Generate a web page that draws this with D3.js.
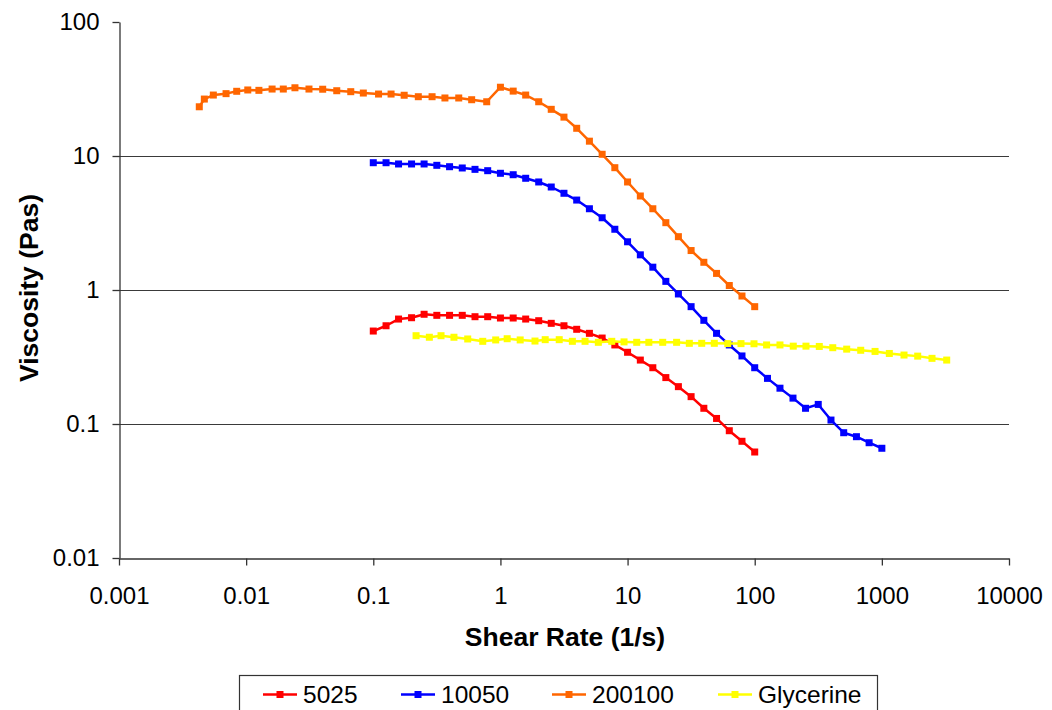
<!DOCTYPE html>
<html>
<head>
<meta charset="utf-8">
<script src="https://cdn.jsdelivr.net/npm/d3@7"></script>
<style>
  html, body { margin: 0; padding: 0; background: #ffffff; }
  svg { display: block; }
  text { font-family: "Liberation Sans", Arial, sans-serif; fill: #000; }
</style>
</head>
<body>
<svg id="chart" width="1052" height="710"></svg>
<script>
// Shear rate (1/s) and viscosity (Pa·s) for each sample
const rate5025 = [0.1, 0.126, 0.158, 0.2, 0.251, 0.316, 0.398, 0.501, 0.631, 0.794,
  1, 1.26, 1.58, 2, 2.51, 3.16, 3.98, 5.01, 6.31, 7.94,
  10, 12.6, 15.8, 20, 25.1, 31.6, 39.8, 50.1, 63.1, 79.4, 100];
const visc5025 = [0.494, 0.541, 0.607, 0.621, 0.659, 0.647, 0.647, 0.647, 0.632, 0.632,
  0.618, 0.618, 0.607, 0.590, 0.564, 0.541, 0.509, 0.475, 0.438, 0.389,
  0.343, 0.300, 0.263, 0.222, 0.190, 0.160, 0.131, 0.110, 0.0891, 0.0743, 0.0618];

const rate10050 = [0.1, 0.126, 0.158, 0.2, 0.251, 0.316, 0.398, 0.501, 0.631, 0.794,
  1, 1.26, 1.58, 2, 2.51, 3.16, 3.98, 5.01, 6.31, 7.94,
  10, 12.6, 15.8, 20, 25.1, 31.6, 39.8, 50.1, 63.1, 79.4,
  100, 126, 158, 200, 251, 316, 398, 501, 631, 794, 1000];
const visc10050 = [8.91, 8.91, 8.72, 8.72, 8.72, 8.52, 8.32, 8.14, 7.95, 7.77,
  7.43, 7.25, 6.82, 6.40, 5.87, 5.27, 4.69, 4.04, 3.46, 2.84,
  2.29, 1.83, 1.48, 1.16, 0.934, 0.751, 0.594, 0.475, 0.389, 0.322,
  0.263, 0.219, 0.185, 0.156, 0.131, 0.140, 0.107, 0.0861, 0.0804, 0.0725, 0.0659];

const rate200100 = [0.00428, 0.00469, 0.00552, 0.00695, 0.00843, 0.0103, 0.0126, 0.0160,
  0.0196, 0.0242, 0.0312, 0.0400, 0.0516, 0.0665, 0.0835, 0.110, 0.138, 0.175,
  0.226, 0.290, 0.366, 0.470, 0.594, 0.780,
  1, 1.26, 1.58, 2, 2.51, 3.16, 3.98, 5.01, 6.31, 7.94,
  10, 12.6, 15.8, 20, 25.1, 31.6, 39.8, 50.1, 63.1, 79.4, 100];
const visc200100 = [23.3, 26.6, 28.5, 29.2, 30.4, 31.1, 30.9, 31.6,
  31.6, 32.3, 31.6, 31.5, 30.7, 30.2, 29.5, 29.0, 29.0, 28.4,
  27.7, 27.7, 27.1, 27.1, 26.3, 25.4,
  32.6, 30.5, 28.5, 25.4, 22.3, 19.5, 16.1, 12.9, 10.3, 8.18,
  6.40, 5.03, 4.04, 3.18, 2.50, 1.97, 1.61, 1.33, 1.08, 0.902, 0.751];

const rateGlycerine = [0.217, 0.276, 0.341, 0.431, 0.553, 0.726, 0.918, 1.13, 1.43, 1.87,
  2.25, 2.90, 3.68, 4.63, 5.89, 7.51, 9.38, 11.8, 14.7, 18.9,
  24.3, 30.6, 38.3, 48.1, 61.4, 78.0, 98.7, 124, 158, 201,
  253, 322, 411, 529, 682, 884, 1145, 1494, 1914, 2480, 3236];
const viscGlycerine = [0.456, 0.444, 0.456, 0.444, 0.431, 0.414, 0.424, 0.433, 0.424, 0.416,
  0.426, 0.426, 0.414, 0.414, 0.407, 0.414, 0.410, 0.407, 0.407, 0.407,
  0.407, 0.400, 0.400, 0.400, 0.398, 0.398, 0.397, 0.389, 0.389, 0.381,
  0.381, 0.379, 0.371, 0.362, 0.355, 0.348, 0.336, 0.327, 0.321, 0.309, 0.300];

const seriesNames = ["5025", "10050", "200100", "Glycerine"];
const seriesColors = ["#ff0000", "#0000ff", "#ff6600", "#ffff00"];
const seriesRates = [rate5025, rate10050, rate200100, rateGlycerine];
const seriesVisc = [visc5025, visc10050, visc200100, viscGlycerine];

const xTickValues = [0.001, 0.01, 0.1, 1, 10, 100, 1000, 10000];
const xTickLabels = ["0.001", "0.01", "0.1", "1", "10", "100", "1000", "10000"];
const yTickValues = [0.01, 0.1, 1, 10, 100];
const yTickLabels = ["0.01", "0.1", "1", "10", "100"];
const gridValues = [0.1, 1, 10];

const xTitle = "Shear Rate (1/s)";
const yTitle = "Viscosity (Pas)";

// Plot frame
const plotLeft = 119, plotRight = 1009, plotTop = 22, plotBottom = 558;

const svg = d3.select("#chart");
svg.append("rect").attr("width", 1052).attr("height", 710).attr("fill", "#fff");

const x = d3.scaleLog().domain([0.001, 10000]).range([plotLeft, plotRight]);
const y = d3.scaleLog().domain([0.01, 100]).range([plotBottom, plotTop]);

// Horizontal gridlines
svg.append("g").selectAll("line").data(gridValues).join("line")
  .attr("x1", plotLeft).attr("x2", plotRight)
  .attr("y1", d => Math.round(y(d)) + 0.5).attr("y2", d => Math.round(y(d)) + 0.5)
  .attr("stroke", "#3a3a3a").attr("stroke-width", 1.2);

// Axes
const yAxis = d3.axisLeft(y).tickValues(yTickValues)
  .tickFormat((d, i) => yTickLabels[i]).tickSize(7).tickSizeOuter(0).tickPadding(13);
const xAxis = d3.axisBottom(x).tickValues(xTickValues)
  .tickFormat((d, i) => xTickLabels[i]).tickSize(7).tickSizeOuter(0).tickPadding(21);

const gy = svg.append("g").attr("transform", `translate(${plotLeft + 0.5},0)`).call(yAxis);
const gx = svg.append("g").attr("transform", `translate(0,${plotBottom + 0.5})`).call(xAxis);
[gx, gy].forEach(g => {
  g.select(".domain").attr("stroke", "#333").attr("stroke-width", 1.3);
  g.selectAll(".tick line").attr("stroke", "#333").attr("stroke-width", 1.3);
  g.selectAll(".tick text")
    .attr("font-family", '"Liberation Sans", Arial, sans-serif')
    .attr("font-size", 24).attr("fill", "#000");
});

// Axis titles
svg.append("text")
  .attr("x", 565).attr("y", 646)
  .attr("text-anchor", "middle")
  .attr("font-size", 26.5).attr("font-weight", "bold")
  .text(xTitle);

svg.append("text")
  .attr("transform", "translate(38,288) rotate(-90)")
  .attr("text-anchor", "middle")
  .attr("font-size", 26.5).attr("font-weight", "bold")
  .text(yTitle);

// Series: line plus square markers
const line = d3.line().x(d => x(d[0])).y(d => y(d[1]));
const markerSize = 7;

seriesNames.forEach((name, s) => {
  const pts = seriesRates[s].map((r, i) => [r, seriesVisc[s][i]]);
  const g = svg.append("g");
  g.append("path").datum(pts)
    .attr("d", line)
    .attr("fill", "none")
    .attr("stroke", seriesColors[s])
    .attr("stroke-width", 2.5)
    .attr("stroke-linejoin", "round");
  g.selectAll("rect").data(pts).join("rect")
    .attr("x", d => x(d[0]) - markerSize / 2)
    .attr("y", d => y(d[1]) - markerSize / 2)
    .attr("width", markerSize).attr("height", markerSize)
    .attr("fill", seriesColors[s]);
});

// Legend
const legend = svg.append("g");
legend.append("rect")
  .attr("x", 239.5).attr("y", 675.5).attr("width", 638).attr("height", 60)
  .attr("fill", "#fff").attr("stroke", "#333").attr("stroke-width", 1.2);

const legendX = [263, 401, 552, 718];
seriesNames.forEach((name, s) => {
  const lx = legendX[s];
  legend.append("line")
    .attr("x1", lx).attr("x2", lx + 34).attr("y1", 694.5).attr("y2", 694.5)
    .attr("stroke", seriesColors[s]).attr("stroke-width", 2.5);
  legend.append("rect")
    .attr("x", lx + 17 - 3.5).attr("y", 694.5 - 3.5)
    .attr("width", 7).attr("height", 7)
    .attr("fill", seriesColors[s]);
  legend.append("text")
    .attr("x", lx + 40).attr("y", 703)
    .attr("font-size", 24.5)
    .text(name);
});
</script>
</body>
</html>
